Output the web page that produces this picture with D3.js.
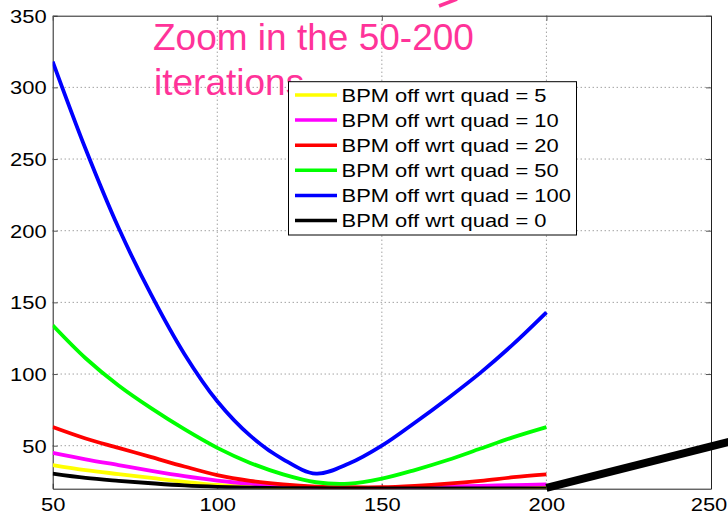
<!DOCTYPE html>
<html>
<head>
<meta charset="utf-8">
<script src="https://cdn.jsdelivr.net/npm/d3@7"></script>
<style>
  body { margin: 0; background: #fff; }
  svg { display: block; font-family: "Liberation Sans", Arial, sans-serif; }
</style>
</head>
<body>
<div id="chart"></div>
<script>
// Iterations (x) shared by all series.
const iterations = [50, 60, 70, 80, 90, 100, 110, 120, 130, 140, 150, 160, 170, 180, 190, 200];

// Values, one array per BPM offset.
const quad5 = [36.5, 33, 30.2, 27.5, 24.8, 22.6, 21.4, 20.9, 20.6, 20.5, 20.5, 20.5, 20.6, 20.7, 20.8, 21];
const quad10 = [45, 40.5, 36.5, 32.5, 28.8, 25.7, 23.5, 22, 21, 20.5, 20.5, 21, 21.5, 22, 22.5, 23];
const quad20 = [63, 55, 48.5, 42, 35.5, 29.5, 25.5, 23, 21.5, 21, 21, 22, 23.5, 25.5, 28, 30];
const quad50 = [134, 111, 92, 76, 61.5, 48.5, 38, 30, 24.5, 23.5, 27, 33, 40, 48, 56, 63];
const quad100 = [318, 257, 202, 155, 114, 81, 57, 40.5, 30.5, 37.5, 50, 66, 83, 101, 121, 143];
const quad0 = [30.5, 27.5, 25.5, 23.8, 22.3, 21.3, 20.7, 20.4, 20.3, 20.2, 20.2, 20.2, 20.2, 20.2, 20.2, 20.2];

// Thick black segment leaving the axes after iteration 200.
const tailX = [200, 256];
const tailY = [20.5, 53];

const seriesNames = ['BPM off wrt quad = 5', 'BPM off wrt quad = 10', 'BPM off wrt quad = 20',
                     'BPM off wrt quad = 50', 'BPM off wrt quad = 100', 'BPM off wrt quad = 0'];
const seriesValues = [quad5, quad10, quad20, quad50, quad100, quad0];
const seriesColors = ['#ffff00', '#ff00ff', '#ff0000', '#00ff00', '#0000ff', '#000000'];

const xTicks = [50, 100, 150, 200, 250];
const yTicks = [50, 100, 150, 200, 250, 300, 350];

const width = 728, height = 515;
const plot = {left: 52.7, right: 711, top: 15.7, bottom: 488.7};
const stretch = 1.24; // tick and legend text is wider than it is tall

const svg = d3.select('#chart')
    .append('svg')
        .attr('width', width)
        .attr('height', height);

const x = d3.scaleLinear().domain([50, 250]).range([plot.left, plot.right]);
const y = d3.scaleLinear().domain([20, 350]).range([plot.bottom, plot.top]);

// Dotted grid.
const grid = svg.append('g')
    .attr('stroke', '#777')
    .attr('stroke-width', 1)
    .attr('stroke-dasharray', '1,3');
grid.selectAll('.gx')
    .data(xTicks.filter(d => d > 50 && d < 250))
    .enter()
    .append('line')
        .attr('x1', d => x(d)).attr('x2', d => x(d))
        .attr('y1', plot.top).attr('y2', plot.bottom);
grid.selectAll('.gy')
    .data(yTicks.filter(d => d < 350))
    .enter()
    .append('line')
        .attr('y1', d => y(d)).attr('y2', d => y(d))
        .attr('x1', plot.left).attr('x2', plot.right);

// Axes, ticks pointing inward.
const xAxis = svg.append('g')
    .attr('transform', `translate(0,${plot.bottom})`)
    .call(d3.axisBottom(x).tickValues(xTicks).tickSizeInner(-5).tickSizeOuter(0).tickPadding(8));
const yAxis = svg.append('g')
    .attr('transform', `translate(${plot.left},0)`)
    .call(d3.axisLeft(y).tickValues(yTicks).tickSizeInner(-5).tickSizeOuter(0).tickPadding(6));
svg.append('g')
    .attr('transform', `translate(0,${plot.top})`)
    .call(d3.axisTop(x).tickValues(xTicks).tickSizeInner(-5).tickSizeOuter(0).tickFormat(''));
svg.append('g')
    .attr('transform', `translate(${plot.right},0)`)
    .call(d3.axisRight(y).tickValues(yTicks).tickSizeInner(-5).tickSizeOuter(0).tickFormat(''));

svg.selectAll('.domain').attr('stroke', '#222');
svg.selectAll('.tick line').attr('stroke', '#555');

// The last label sits against the page edge, nudge it in a little.
xAxis.selectAll('text')
    .attr('y', null).attr('dy', null)
    .attr('transform', d => `translate(${d === 250 ? -2.5 : 0},22.5) scale(${stretch},1)`)
    .style('font-size', '17.7px')
    .attr('fill', '#000');
yAxis.selectAll('text')
    .attr('x', null).attr('dy', null)
    .attr('transform', `translate(-6,6.3) scale(${stretch},1)`)
    .style('font-size', '17.7px')
    .attr('fill', '#000');

// Lines, clipped to the axes box.
svg.append('clipPath')
    .attr('id', 'clip')
    .append('rect')
        .attr('x', plot.left).attr('y', plot.top)
        .attr('width', plot.right - plot.left)
        .attr('height', plot.bottom - plot.top);

const line = d3.line()
    .x(d => x(d[0]))
    .y(d => y(d[1]))
    .curve(d3.curveCatmullRom.alpha(0.5));

svg.append('g')
    .attr('clip-path', 'url(#clip)')
    .selectAll('path')
    .data(seriesValues)
    .enter()
    .append('path')
        .attr('fill', 'none')
        .attr('stroke', (d, i) => seriesColors[i])
        .attr('stroke-width', 3.8)
        .attr('stroke-linejoin', 'round')
        .attr('d', d => line(iterations.map((it, j) => [it, d[j]])));

// The thick black tail is not clipped.
svg.append('path')
    .attr('fill', 'none')
    .attr('stroke', '#000')
    .attr('stroke-width', 8)
    .attr('d', d3.line().x(d => x(d[0])).y(d => y(d[1]))(tailX.map((t, j) => [t, tailY[j]])));

// Annotation text.
const note = svg.append('text')
    .attr('fill', '#ff3399')
    .style('font-size', '37px');
note.append('tspan').attr('x', 153).attr('y', 50).text('Zoom in the 50-200');
note.append('tspan').attr('x', 154).attr('y', 95).text('iterations');

// Fragment of the annotation arrow at the top edge.
svg.append('line')
    .attr('x1', 439).attr('y1', 6)
    .attr('x2', 457).attr('y2', -1)
    .attr('stroke', '#ff3399')
    .attr('stroke-width', 3.5);

// Legend.
const legend = svg.append('g');
legend.append('rect')
    .attr('x', 288.5).attr('y', 81.7)
    .attr('width', 288).attr('height', 153.3)
    .attr('fill', '#fff')
    .attr('stroke', '#000')
    .attr('stroke-width', 1);
const rows = legend.selectAll('.row')
    .data(seriesNames)
    .enter()
    .append('g')
        .attr('transform', (d, i) => `translate(0,${95 + i * 25.1})`);
rows.append('line')
    .attr('x1', 295).attr('x2', 337)
    .attr('stroke', (d, i) => seriesColors[i])
    .attr('stroke-width', 3.5);
rows.append('text')
    .attr('transform', `translate(341.5,6.5) scale(${stretch},1)`)
    .style('font-size', '17.7px')
    .attr('fill', '#000')
    .text(d => d);
</script>
</body>
</html>
